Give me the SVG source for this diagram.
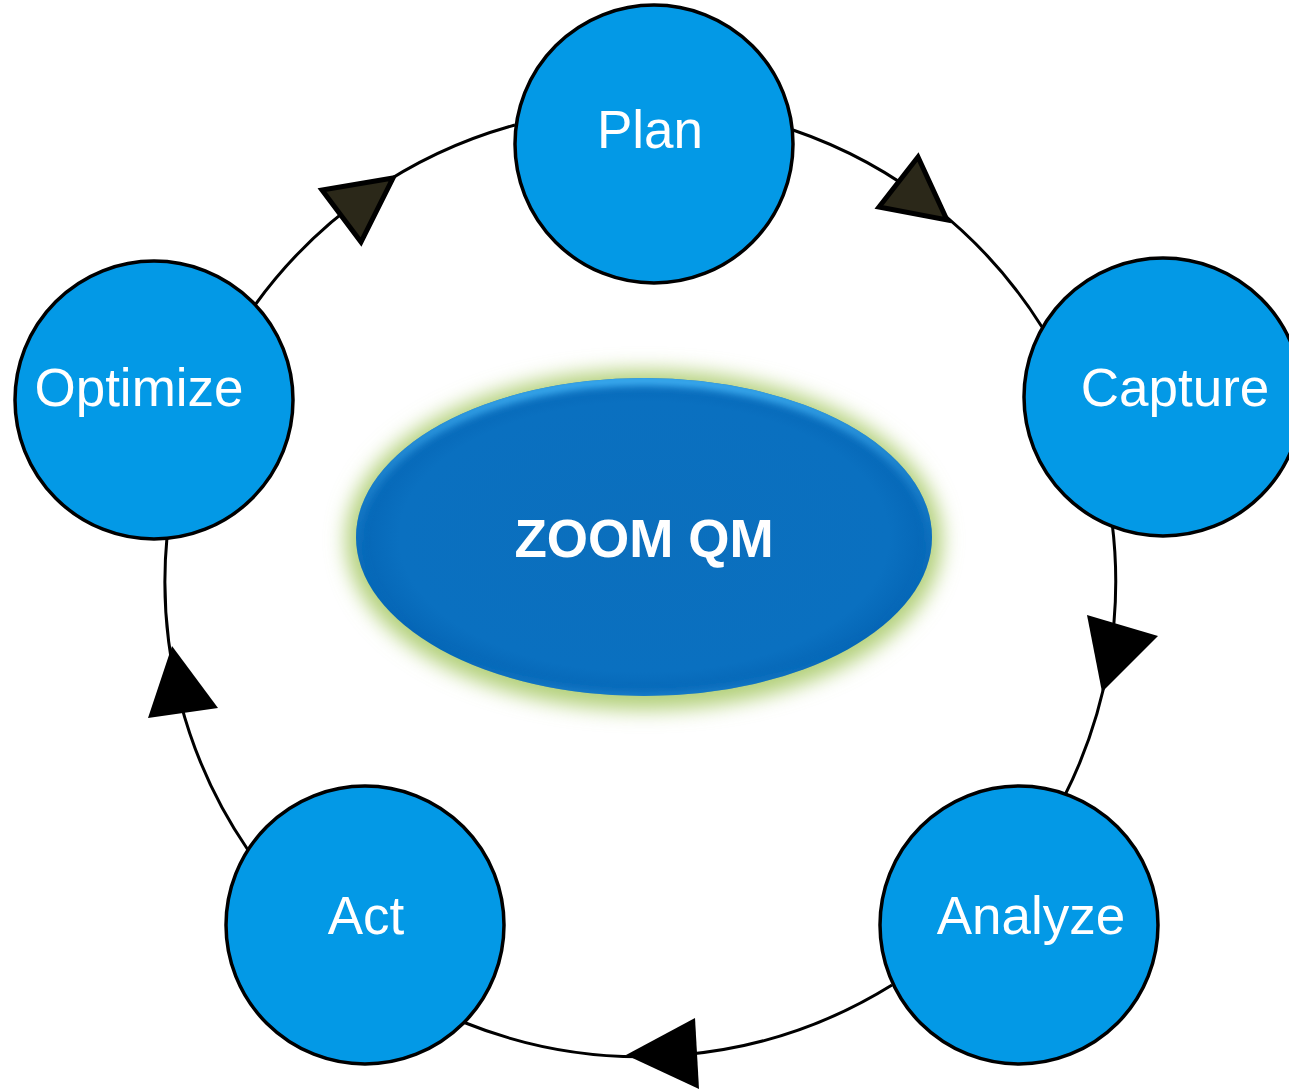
<svg xmlns="http://www.w3.org/2000/svg" width="1289" height="1089" viewBox="0 0 1289 1089">
<style>
.node circle{fill:#0399e6;stroke:#000;stroke-width:3.5}
.lbl{font-family:"Liberation Sans",Arial,sans-serif;font-size:53px;fill:#fff;text-anchor:middle}
.arc{fill:none;stroke:#000;stroke-width:3}
.hd1{fill:#2b2819;stroke:#000;stroke-width:5;stroke-linejoin:miter}
.hd2{fill:#000;stroke:none}
</style>
<defs>
<filter id="glow" x="-20%" y="-20%" width="140%" height="140%"><feGaussianBlur stdDeviation="10"/></filter>
<filter id="soft" x="-20%" y="-20%" width="140%" height="140%"><feGaussianBlur stdDeviation="4"/></filter>
<radialGradient id="eg" cx="0.5" cy="0.5" r="0.5">
<stop offset="0" stop-color="#0b6fbd"/>
<stop offset="0.85" stop-color="#0a70c0"/>
<stop offset="1" stop-color="#0566b6"/>
</radialGradient>
<linearGradient id="rim" x1="0" y1="0" x2="0" y2="1">
<stop offset="0" stop-color="#45b8fa"/>
<stop offset="0.45" stop-color="#2a8fd8" stop-opacity="0.4"/>
<stop offset="0.8" stop-color="#0566b6" stop-opacity="0"/>
<stop offset="1" stop-color="#2e96e0" stop-opacity="0.6"/>
</linearGradient>
<clipPath id="ec"><ellipse cx="644" cy="537" rx="288" ry="159"/></clipPath>
</defs>
<g id="connectors">
<path class="arc" d="M255,305 A475,475 0 0 1 515,125"/>
<path class="arc" d="M793,130 A475,475 0 0 1 1042,327"/>
<path class="arc" d="M1112,522 A475,475 0 0 1 1064,797"/>
<path class="arc" d="M892,985 A475,475 0 0 1 463,1022"/>
<path class="arc" d="M248,850 A475,475 0 0 1 167,537"/>
<polygon class="hd1" points="393,178 322,190 361,242"/>
<polygon class="hd1" points="947,220 918,157 879,207"/>
<polygon class="hd2" points="1102,692 1087,615 1158,636"/>
<polygon class="hd2" points="626,1055 695,1018 699,1089"/>
<polygon class="hd2" points="172,646 218,708 148,718"/>
</g>
<g id="center">
<ellipse cx="644" cy="540" rx="298" ry="170" fill="#b3d07a" filter="url(#glow)"/>
<ellipse cx="644" cy="537" rx="288" ry="159" fill="url(#eg)"/>
<g clip-path="url(#ec)">
<ellipse cx="644" cy="539" rx="288" ry="159" fill="none" stroke="url(#rim)" stroke-width="10" filter="url(#soft)"/>
</g>
<text class="lbl" x="644" y="557" style="font-weight:bold">ZOOM QM</text>
</g>
<g id="plan" class="node"><circle cx="654" cy="144" r="139"/><text class="lbl" x="650" y="148">Plan</text></g>
<g id="capture" class="node"><circle cx="1163" cy="397" r="139"/><text class="lbl" x="1175" y="406">Capture</text></g>
<g id="analyze" class="node"><circle cx="1019" cy="925" r="139"/><text class="lbl" x="1031" y="934">Analyze</text></g>
<g id="act" class="node"><circle cx="365" cy="925" r="139"/><text class="lbl" x="366" y="934">Act</text></g>
<g id="optimize" class="node"><circle cx="154" cy="400" r="139"/><text class="lbl" x="139" y="406">Optimize</text></g>
</svg>
